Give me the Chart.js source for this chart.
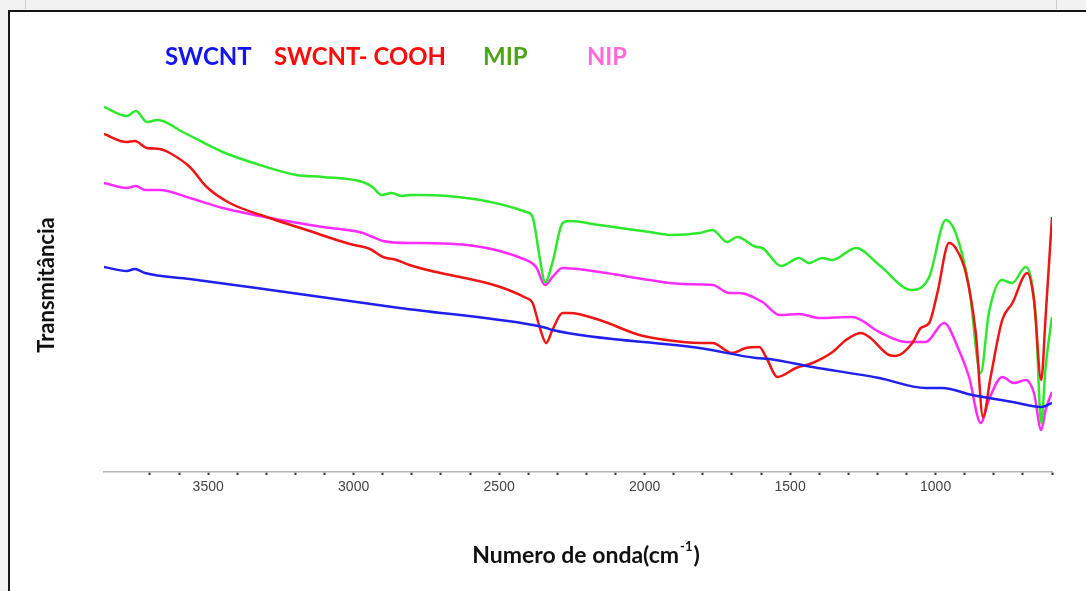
<!DOCTYPE html>
<html>
<head>
<meta charset="utf-8">
<script src="https://cdn.jsdelivr.net/npm/chart.js@4.4.1/dist/chart.umd.min.js"></script>
<style>
  html, body { margin: 0; padding: 0; background: #f2f2f2; }
  canvas { display: block; }
</style>
</head>
<body>
<canvas id="ftir" width="1086" height="591"></canvas>
<script>
// values (wavenumber in cm-1, transmittance in arbitrary units)
const seriesNames = ["SWCNT", "SWCNT- COOH", "MIP", "NIP"];
const xTickLabels = [3500, 3000, 2500, 2000, 1500, 1000];

const swcntWn = [3858, 3780, 3752, 3717, 3563, 3334, 2842, 2384, 2338, 2317, 1812, 1617, 1572, 1423, 1194, 1034, 977, 874, 817, 736, 637, 600];
const swcntT  = [205, 201, 203, 199, 193, 184, 164, 147, 144, 142, 124, 114, 113, 105, 94, 84, 84, 77, 74, 70, 65, 69];

const coohWn = [3858, 3780, 3752, 3711, 3666, 3632, 3563, 3505, 3426, 3288, 3162, 3013, 2944, 2899, 2853, 2808, 2407, 2385, 2361, 2338, 2317, 2282, 2258, 2155, 2018, 1926, 1812, 1767, 1699, 1652, 1606, 1583, 1543, 1480, 1423, 1354, 1308, 1257, 1228, 1160, 1137, 1080, 1051, 1022, 994, 954, 931, 896, 862, 837, 811, 771, 736, 685, 662, 637, 622, 600];
const coohT  = [338, 330, 331, 324, 323, 319, 305, 285, 269, 254, 242, 228, 223, 215, 212, 207, 174, 169, 145, 129, 142, 159, 159, 152, 137, 132, 129, 129, 119, 124, 125, 115, 95, 104, 109, 120, 132, 139, 135, 117, 116, 129, 144, 149, 179, 229, 224, 199, 139, 55, 95, 152, 169, 199, 172, 92, 155, 255];

const mipWn = [3858, 3780, 3748, 3710, 3673, 3587, 3450, 3333, 3196, 3106, 2969, 2935, 2904, 2869, 2835, 2808, 2773, 2406, 2385, 2361, 2342, 2317, 2282, 2258, 2155, 1983, 1905, 1812, 1767, 1716, 1682, 1616, 1596, 1531, 1469, 1435, 1390, 1356, 1273, 1194, 1081, 1022, 965, 931, 885, 845, 817, 772, 737, 690, 656, 637, 622, 600];
const mipT  = [365, 356, 361, 350, 352, 340, 320, 308, 297, 295, 290, 285, 277, 279, 276, 277, 277, 260, 255, 215, 190, 209, 249, 251, 247, 240, 237, 239, 242, 230, 235, 225, 224, 206, 214, 209, 214, 212, 224, 207, 182, 195, 252, 239, 185, 99, 159, 192, 189, 205, 155, 49, 105, 155];

const nipWn = [3858, 3780, 3748, 3717, 3666, 3563, 3449, 3288, 3105, 2968, 2934, 2899, 2808, 2773, 2407, 2373, 2342, 2317, 2282, 2155, 1983, 1869, 1766, 1709, 1675, 1595, 1537, 1469, 1400, 1286, 1194, 1102, 1034, 971, 920, 885, 845, 817, 771, 731, 690, 662, 637, 622, 600];
const nipT  = [289, 284, 286, 282, 282, 274, 264, 254, 245, 239, 235, 231, 229, 229, 212, 205, 187, 195, 204, 200, 192, 188, 187, 179, 179, 170, 157, 158, 154, 155, 140, 130, 130, 149, 122, 95, 49, 72, 95, 89, 92, 79, 42, 62, 80];

const lineColors = ["#2020ee", "#ee1515", "#2ee82e", "#ff2cff"];
const legendColors = ["#1414f0", "#ff0a0a", "#4ca514", "#ff6ad8"];

function toPoints(wn, t) {
  return wn.map((w, i) => ({ x: w, y: t[i] }));
}

// page frame of the original figure
const framePlugin = {
  id: "frame",
  beforeDraw(chart) {
    const ctx = chart.ctx;
    ctx.save();
    ctx.fillStyle = "#f2f2f2";
    ctx.fillRect(0, 0, chart.width, chart.height);
    ctx.fillStyle = "#ffffff";
    ctx.fillRect(10, 12, chart.width - 10, chart.height - 12);
    ctx.strokeStyle = "#cccccc";
    ctx.lineWidth = 1;
    ctx.beginPath();
    ctx.moveTo(25.5, 0); ctx.lineTo(25.5, 9);
    ctx.moveTo(1056.5, 0); ctx.lineTo(1056.5, 9);
    ctx.stroke();
    ctx.strokeStyle = "#151515";
    ctx.lineWidth = 2;
    ctx.beginPath();
    ctx.moveTo(9, 11); ctx.lineTo(chart.width, 11);
    ctx.moveTo(9, 10); ctx.lineTo(9, chart.height);
    ctx.stroke();
    ctx.restore();
  }
};

// coloured names at the top and the two axis titles
const textPlugin = {
  id: "texts",
  afterDraw(chart) {
    const ctx = chart.ctx;
    ctx.save();
    ctx.font = "bold 24px Lato, 'Open Sans', sans-serif";
    ctx.textBaseline = "alphabetic";
    ctx.textAlign = "left";
    const xs = [165, 274, 483, 587];
    const ws = [87, 172, 46, 40];
    seriesNames.forEach((name, i) => {
      ctx.fillStyle = legendColors[i];
      ctx.fillText(name, xs[i], 65, ws[i]);
    });

    ctx.fillStyle = "#111111";
    ctx.font = "bold 22px Lato, 'Open Sans', sans-serif";
    ctx.save();
    ctx.translate(54, 285);
    ctx.rotate(-Math.PI / 2);
    ctx.textAlign = "center";
    ctx.fillText("Transmitância", 0, 0, 150);
    ctx.restore();

    // x title with superscript -1
    const big = "bold 23px Lato, 'Open Sans', sans-serif";
    const small = "bold 13px Lato, 'Open Sans', sans-serif";
    const main = "Numero de onda(cm";
    ctx.font = big;
    const wMain = ctx.measureText(main).width;
    const wClose = ctx.measureText(")").width;
    ctx.font = small;
    const wSup = ctx.measureText("-1").width;
    const total = wMain + wSup + 2 + wClose;
    let x = 586 - total / 2;
    ctx.textAlign = "left";
    ctx.font = big;
    ctx.fillText(main, x, 563);
    x += wMain;
    ctx.font = small;
    ctx.fillText("-1", x + 1, 551);
    x += wSup + 2;
    ctx.font = big;
    ctx.fillText(")", x, 563);
    ctx.restore();
  }
};

const dataWn = [swcntWn, coohWn, mipWn, nipWn];
const dataT = [swcntT, coohT, mipT, nipT];

new Chart(document.getElementById("ftir").getContext("2d"), {
  type: "line",
  data: {
    datasets: seriesNames.map((name, i) => ({
      label: name,
      data: toPoints(dataWn[i], dataT[i]),
      borderColor: lineColors[i],
      borderWidth: 2.5,
      pointRadius: 0,
      fill: false,
      cubicInterpolationMode: "monotone",
    })),
  },
  options: {
    responsive: false,
    animation: false,
    layout: { padding: { left: 104, right: 34, top: 22, bottom: 0 } },
    scales: {
      x: {
        type: "linear",
        reverse: true,
        min: 600,
        max: 3858,
        afterBuildTicks: (scale) => {
          scale.ticks = scale.ticks.filter(t => t.value % 100 === 0);
        },
        afterFit: (scale) => { scale.height = 119; },
        ticks: {
          stepSize: 100,
          autoSkip: false,
          maxRotation: 0,
          padding: 4,
          color: "#444444",
          font: { family: "'Liberation Sans', Arial, sans-serif", size: 14 },
          callback: (v) => xTickLabels.includes(v) ? String(v) : "",
        },
        grid: {
          drawOnChartArea: false,
          drawTicks: true,
          tickLength: 3,
          tickWidth: 2,
          tickColor: "#333333",
        },
        border: { display: true, color: "#b4b4b4", width: 1.5 },
      },
      y: {
        display: false,
        min: 0,
        max: 450,
      },
    },
    plugins: {
      legend: { display: false },
      tooltip: { enabled: false },
    },
  },
  plugins: [framePlugin, textPlugin],
});
</script>
</body>
</html>
